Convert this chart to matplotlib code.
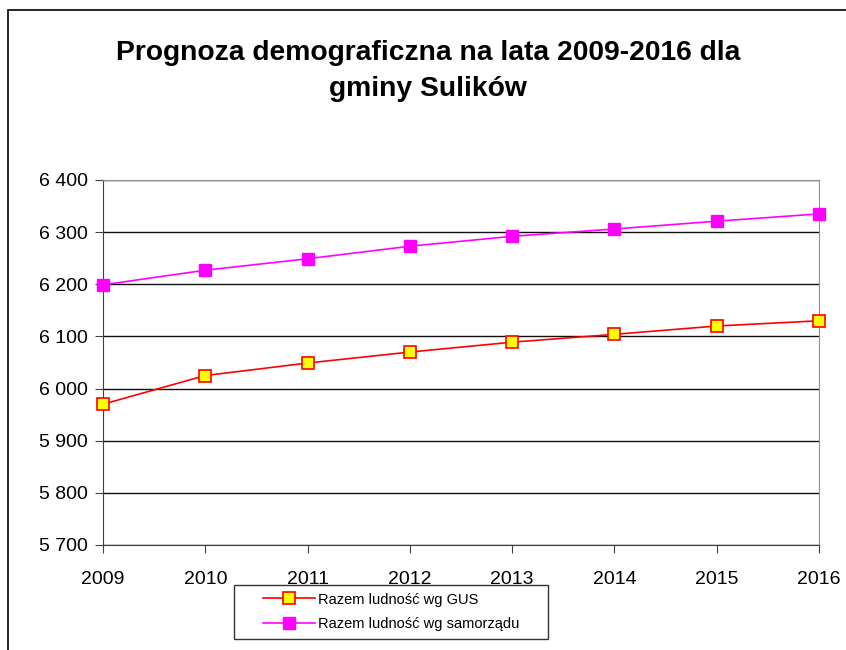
import matplotlib
matplotlib.use("Agg")
import matplotlib.pyplot as plt
from matplotlib.patches import Rectangle
from matplotlib.ticker import FuncFormatter
from matplotlib.legend_handler import HandlerLine2D

plt.rcParams['font.family'] = ['Liberation Sans', 'DejaVu Sans']

years = [2009, 2010, 2011, 2012, 2013, 2014, 2015, 2016]
gus = [5970, 6025, 6049, 6070, 6089, 6104, 6120, 6130]
samorzad = [6199, 6227, 6249, 6273, 6292, 6306, 6321, 6335]
yticks = [5700, 5800, 5900, 6000, 6100, 6200, 6300, 6400]
title = "Prognoza demograficzna na lata 2009-2016 dla\ngminy Sulików"
labels = ["Razem ludność wg GUS", "Razem ludność wg samorządu"]


class OffsetHandler(HandlerLine2D):
    def __init__(self, offset, **kw):
        super().__init__(**kw)
        self.offset = offset

    def create_artists(self, legend, orig_handle, xdescent, ydescent, width, height, fontsize, trans):
        return super().create_artists(legend, orig_handle, xdescent - self.offset, ydescent,
                                      width - self.offset, height, fontsize, trans)


fig = plt.figure(figsize=(8.46, 6.5), dpi=100)
fig.patches.append(Rectangle((8/846, -0.1), 2, 1.1 - 10/650, transform=fig.transFigure,
                             fill=False, edgecolor='black', linewidth=1.2))
ax = fig.add_axes([103/846, 1 - 545/650, (819 - 103)/846, (545 - 180)/650])

ax.set_ylim(5700, 6400)
ax.set_xlim(years[0], years[-1])
ax.set_yticks(yticks)
ax.set_xticks(years)
ax.yaxis.set_major_formatter(FuncFormatter(lambda v, p: f"{int(v):,}".replace(",", " ")))
ax.grid(axis='y', color='#101010', linewidth=1)
ax.set_axisbelow(True)

l1, = ax.plot(years, gus, color='#ff0000', linewidth=1.2, marker='s', markersize=8,
              markerfacecolor='#ffff00', markeredgecolor='#ff0000', markeredgewidth=1.2,
              label=labels[0], clip_on=False, zorder=3)
l2, = ax.plot(years, samorzad, color='#ff00ff', linewidth=1.2, marker='s', markersize=8.5,
              markerfacecolor='#ff00ff', markeredgecolor='#ff00ff',
              label=labels[1], clip_on=False, zorder=3)

for s in ['top', 'right']:
    ax.spines[s].set_color('#909090')
for s in ['left', 'bottom']:
    ax.spines[s].set_color('#404040')
ax.tick_params(axis='both', direction='out', length=6, color='#404040', labelsize=14)
ax.tick_params(axis='x', pad=12.5)
ax.tick_params(axis='y', pad=5)

fig.text(428/846, 1 - 71/650, title, ha='center', va='center', fontsize=20.3,
         fontweight='bold', linespacing=1.5)

fs = 10.5
leg = ax.legend(loc='center', bbox_to_anchor=(234/846, 1 - 641/650, (548 - 234)/846, (641 - 583)/650),
                bbox_transform=fig.transFigure, mode='expand', fontsize=fs, frameon=True,
                fancybox=False, edgecolor='black', borderpad=0.55, labelspacing=0.75,
                handlelength=5.0, handletextpad=0.2, borderaxespad=0,
                handler_map={l1: OffsetHandler(15), l2: OffsetHandler(15)})
leg.get_frame().set_linewidth(1)

fig.savefig("out.png", dpi=100)
